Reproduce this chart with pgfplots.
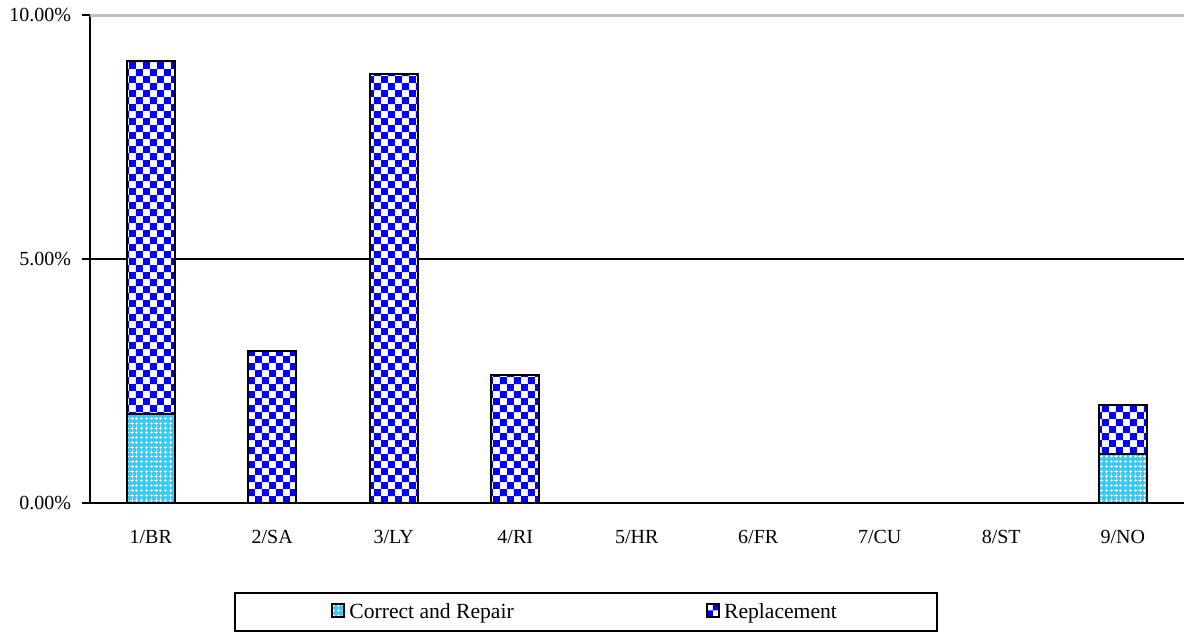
\documentclass[border=0pt]{standalone}
\usepackage{fontspec}
\setmainfont{Liberation Serif}
\usepackage{pgfplots}
\pgfplotsset{compat=1.18}
\usetikzlibrary{patterns}
\definecolor{crcyan}{RGB}{51,204,255}
\definecolor{repblue}{RGB}{0,0,255}
\pgfdeclarepatternformonly{bigchecker}{\pgfpointorigin}{\pgfqpoint{7.2pt}{7.2pt}}{\pgfqpoint{7.2pt}{7.2pt}}{%
  \pgfpathrectangle{\pgfpointorigin}{\pgfqpoint{3.6pt}{3.6pt}}%
  \pgfpathrectangle{\pgfqpoint{3.6pt}{3.6pt}}{\pgfqpoint{3.6pt}{3.6pt}}%
  \pgfusepath{fill}}
\pgfdeclarepatternformonly{smallplus}{\pgfqpoint{-0.2pt}{-0.2pt}}{\pgfqpoint{2.6pt}{2.6pt}}{\pgfqpoint{2.4pt}{2.4pt}}{%
  \pgfsetlinewidth{0.45pt}%
  \pgfpathmoveto{\pgfqpoint{1.2pt}{0.4pt}}\pgfpathlineto{\pgfqpoint{1.2pt}{2.0pt}}%
  \pgfpathmoveto{\pgfqpoint{0.4pt}{1.2pt}}\pgfpathlineto{\pgfqpoint{2.0pt}{1.2pt}}%
  \pgfusepath{stroke}}
\begin{document}
\begin{tikzpicture}
\path[use as bounding box] (-45pt,-64.5pt) rectangle (547.5pt,251.5pt);
\begin{axis}[
  at={(0pt,0pt)}, anchor=south west,
  scale only axis,
  width=546.75pt, height=244pt,
  ybar stacked, bar width=24pt,
  xmin=-0.5, xmax=8.5,
  ymin=0, ymax=10,
  axis x line*=bottom, axis y line*=left,
  axis line style={line width=1pt, -},
  tick align=outside,
  major tick length=4pt,
  minor tick length=3.5pt,
  xtick={0,1,2,3,4,5,6,7,8},
  xticklabels={1/BR,2/SA,3/LY,4/RI,5/HR,6/FR,7/CU,8/ST,9/NO},
  xtick style={draw=none},
  minor xtick={-0.5,0.5,1.5,2.5,3.5,4.5,5.5,6.5,7.5,8.5},
  minor tick style={line width=1pt, black},
  ytick={0,5},
  yticklabels={0.00\%,5.00\%},
  extra y ticks={10},
  extra y tick labels={10.00\%},
  ytick style={line width=1pt, black},
  ymajorgrids,
  grid style={line width=0.8pt, black},
  extra y tick style={grid style={line width=1.5pt, black!25}, tick style={line width=1pt, black}},
  x tick label style={font=\fontsize{10}{12}\selectfont, yshift=-6pt},
  y tick label style={font=\fontsize{10}{12}\selectfont, xshift=-2pt},
  legend columns=2,
  legend style={at={(0.1317,-0.1824)}, anchor=north west, draw=black, line width=1pt,
    inner xsep=48pt, inner ysep=3pt, font=\fontsize{10.8}{13}\selectfont,
    /tikz/every even column/.append style={column sep=94pt}},
  legend image code/.code={\draw[#1, line width=1pt] (0pt,-0.25em) rectangle (0.62em,0.42em);},
  clip=false,
]
\addplot[draw=black, line width=1pt, fill=crcyan, postaction={pattern=smallplus, pattern color=white}]
  coordinates {(0,1.82) (1,0) (2,0) (3,0) (4,0) (5,0) (6,0) (7,0) (8,1.00)};
\addlegendentry{Correct and Repair}
\addplot[draw=black, line width=1pt, fill=white, postaction={pattern=bigchecker, pattern color=repblue}]
  coordinates {(0,7.24) (1,3.11) (2,8.79) (3,2.62) (4,0) (5,0) (6,0) (7,0) (8,1.01)};
\addlegendentry{Replacement}
\end{axis}
\end{tikzpicture}
\end{document}
